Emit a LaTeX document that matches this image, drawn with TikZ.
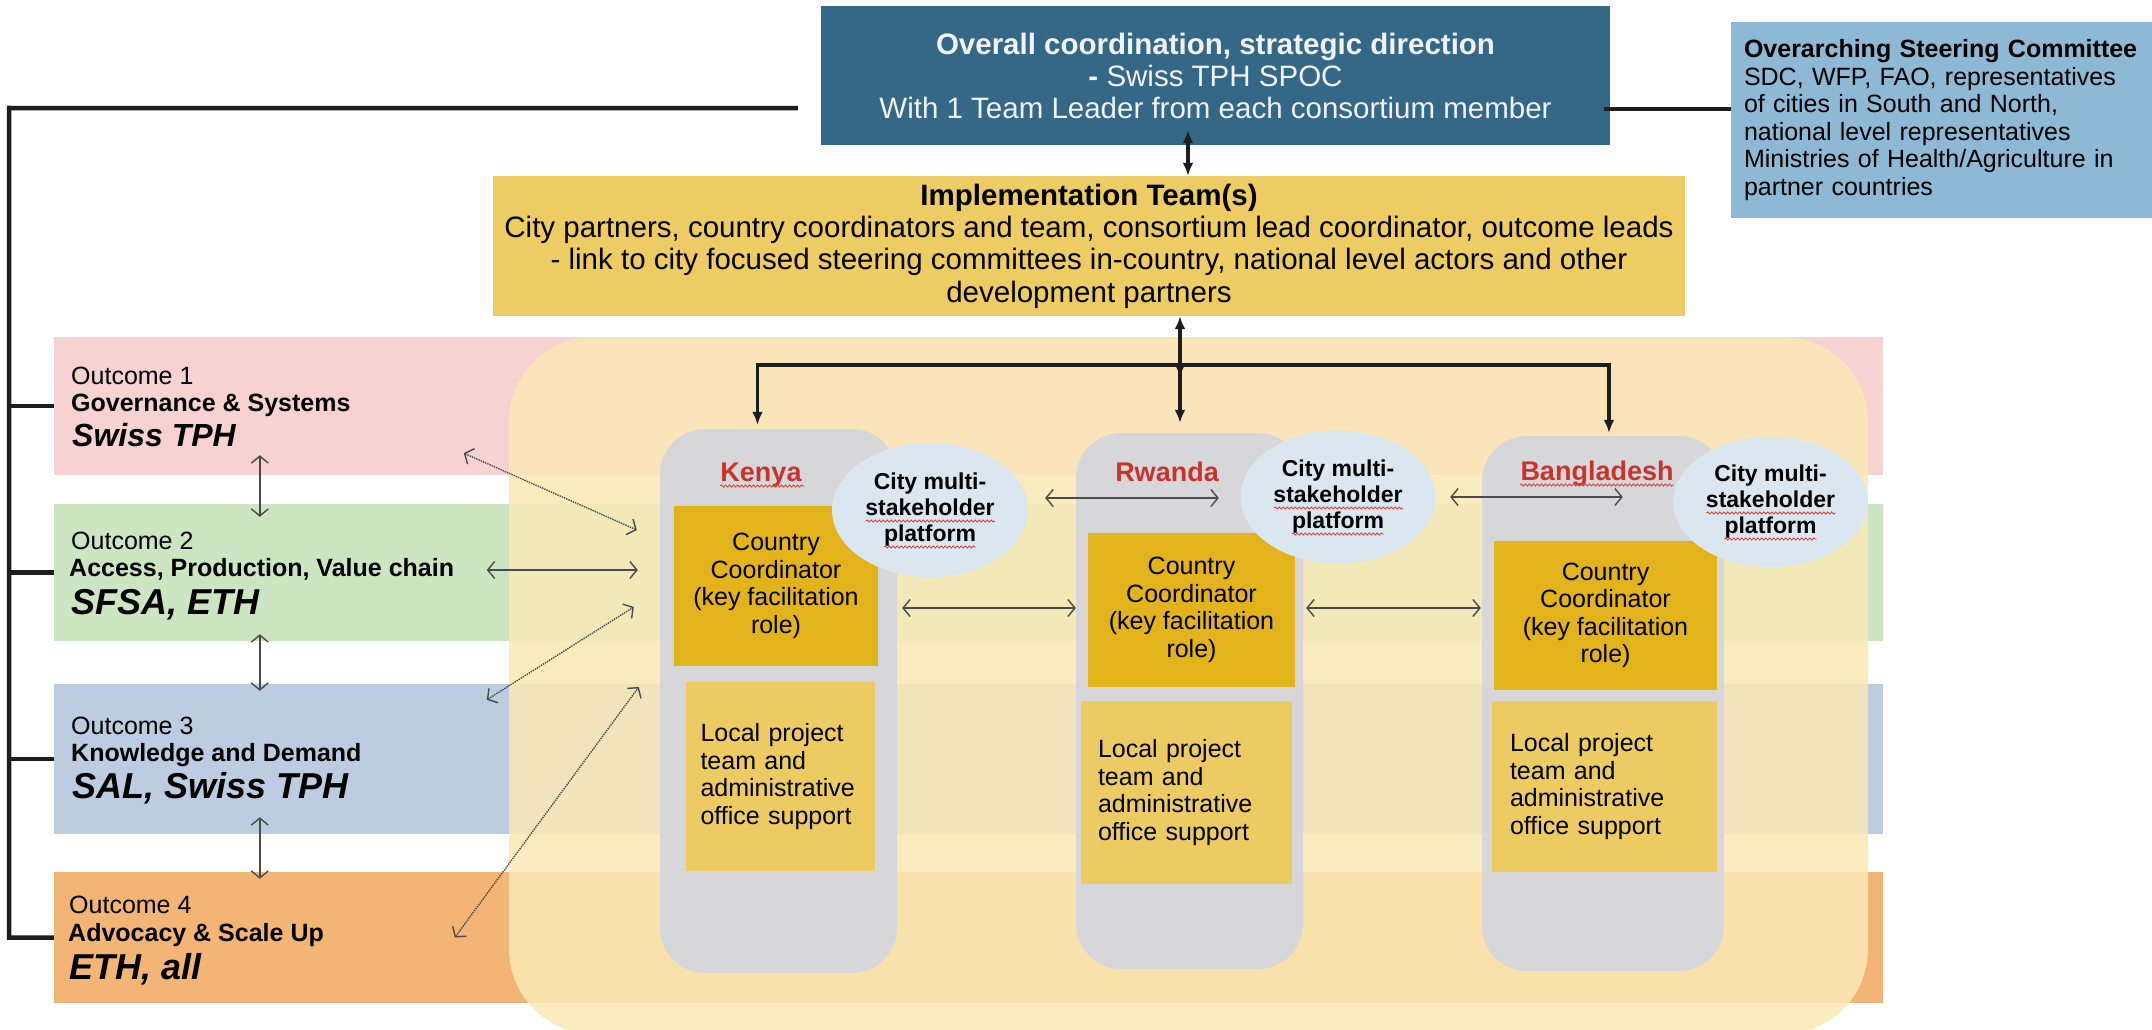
\documentclass[tikz,border=0pt]{standalone}
\usepackage{fontspec}
\setmainfont{Liberation Sans}
\usetikzlibrary{arrows.meta,shapes.geometric,calc,decorations.pathmorphing}
\newcommand\myfs[2]{\fontsize{#1pt}{#2pt}\selectfont}
\definecolor{topblue}{HTML}{356887}
\definecolor{steerblue}{HTML}{8DB9D4}
\definecolor{implyellow}{HTML}{EDCC64}
\definecolor{bandpink}{HTML}{F6D2D1}
\definecolor{bandgreen}{HTML}{CBE6C0}
\definecolor{bandblue}{HTML}{BDCDE1}
\definecolor{bandorange}{HTML}{F2B575}
\definecolor{bigyellow}{HTML}{FBE9B6}
\definecolor{colgray}{HTML}{D7D6D9}
\definecolor{ccgold}{HTML}{E2B31A}
\definecolor{localgold}{HTML}{EDCB63}
\definecolor{ellblue}{HTML}{DAE7F1}
\definecolor{cityred}{HTML}{C8342C}
\definecolor{spellred}{HTML}{E0403A}
\definecolor{arrgray}{HTML}{4A4A4A}
\definecolor{lineblack}{HTML}{1E1E1E}
\definecolor{toptext}{HTML}{F0F3F6}
\tikzset{
  bigtip/.tip={Latex[length=13pt,width=11pt]},
  barbtip/.tip={Straight Barb[length=7pt,width=17pt,line width=1.4pt]},
}
\begin{document}
\begin{tikzpicture}[x=1pt,y=-1pt,
  bandbox/.style={inner sep=0pt, minimum width=1829pt},
  colbox/.style={fill=colgray, inner sep=0pt, rounded corners=45pt},
  ccbox/.style={fill=ccgold, inner sep=0pt, align=center, font=\myfs{25}{27.5}},
  localbox/.style={fill=localgold, inner ysep=0pt, align=left, font=\myfs{25}{27.5}},
  cityell/.style={ellipse, fill=ellblue, inner sep=0pt, align=center, font=\bfseries\myfs{23}{26}},
  citylabel/.style={anchor=base, inner sep=0pt, text=cityred, font=\bfseries\myfs{27}{30}},
  outsmall/.style={anchor=base west, inner sep=0pt, font=\myfs{25}{27}},
  outbold/.style={anchor=base west, inner sep=0pt, font=\bfseries\myfs{25}{27}},
  outbig/.style={anchor=base west, inner sep=0pt, font=\bfseries\itshape\myfs{36}{40}},
  bracket/.style={draw=lineblack, line width=4.5pt},
  bigarr/.style={draw=lineblack, line width=3.5pt},
  thinarr/.style={draw=arrgray, line width=1.4pt, barbtip-barbtip},
  dotarr/.style={thinarr, densely dotted},
  spellmark/.style={draw=spellred, line width=0.9pt, decorate,
    decoration={snake, segment length=4pt, amplitude=1pt}},
]
\useasboundingbox (0,0) rectangle (2152,1030);
\fill[white] (0,0) rectangle (2152,1030);

% outcome bands
\node[bandbox, fill=bandpink, minimum height=138pt] (b1) at (968.5,406) {};
\node[bandbox, fill=bandgreen, minimum height=137pt] (b2) at (968.5,572.5) {};
\node[bandbox, fill=bandblue, minimum height=150pt] (b3) at (968.5,759) {};
\node[bandbox, fill=bandorange, minimum height=131pt] (b4) at (968.5,937.5) {};

% big translucent region
\node[fill=bigyellow, fill opacity=0.85, rounded corners=85pt, inner sep=0pt,
      minimum width=1359pt, minimum height=697pt] (region) at (1188.5,685.5) {};

% country columns
\node[colbox, minimum width=237pt, minimum height=544pt] (kenya) at (778.5,701) {};
\node[colbox, minimum width=227pt, minimum height=536pt] (rwanda) at (1189.5,701) {};
\node[colbox, minimum width=242pt, minimum height=535pt] (bangla) at (1603,703.5) {};

\node[citylabel] (kenyaL) at (761,481) {Kenya};
\node[citylabel] (rwandaL) at (1167,481) {Rwanda};
\node[citylabel] (banglaL) at (1597,480) {Bangladesh};

% country coordinator boxes
\node[ccbox, minimum width=204pt, minimum height=160pt] (kcc) at (776,586) {Country\\Coordinator\\(key facilitation\\role)};
\node[ccbox, minimum width=207pt, minimum height=154pt] (rcc) at (1191.5,610) {Country\\Coordinator\\(key facilitation\\role)};
\node[ccbox, minimum width=223pt, minimum height=149pt] (bcc) at (1605.5,615.5) {Country\\Coordinator\\(key facilitation\\role)};

% local team boxes
\node[localbox, minimum height=189pt, text width=160pt, inner xsep=14.5pt] (kloc) at (780.5,776.5) {Local project\\team and\\administrative\\office support};
\node[localbox, minimum height=183pt, text width=177pt, inner xsep=17pt] (rloc) at (1186.5,792.5) {Local project\\team and\\administrative\\office support};
\node[localbox, minimum height=171pt, text width=189pt, inner xsep=18pt] (bloc) at (1604.5,786.5) {Local project\\team and\\administrative\\office support};

% city platforms
\node[cityell, minimum width=196pt, minimum height=134pt] (kell) at (930,510) {City multi-\\stakeholder\\platform};
\node[cityell, minimum width=195pt, minimum height=133pt] (rell) at (1338,497) {City multi-\\stakeholder\\platform};
\node[cityell, minimum width=195pt, minimum height=130pt] (bell) at (1770.5,502) {City multi-\\stakeholder\\platform};

% spell-check marks as printed
\draw[spellmark] ($(kenyaL.base west)+(0,5)$) -- ($(kenyaL.base east)+(3,5)$);
\draw[spellmark] ($(banglaL.base west)+(0,5)$) -- ($(banglaL.base east)+(0,5)$);
\foreach \e in {kell,rell,bell}{
  \draw[spellmark] ($(\e.center)+(-64,11)$) -- ($(\e.center)+(65,11)$);
  \draw[spellmark] ($(\e.center)+(-46,37)$) -- ($(\e.center)+(46,37)$);
}

% top boxes
\node[fill=topblue, minimum width=789pt, minimum height=139pt, inner sep=0pt, align=center,
      text=toptext, font=\myfs{29.5}{32}] (top) at (1215.5,75.5)
  {\textbf{Overall coordination, strategic direction}\\\textbf{-} Swiss TPH SPOC\\With 1 Team Leader from each consortium member};
\node[fill=steerblue, minimum height=196pt, text width=395pt, inner xsep=13pt, inner ysep=0pt,
      align=left, font=\myfs{25}{27.6}] (steer) at (1941.5,120)
  {\textbf{Overarching Steering Committee}\\SDC, WFP, FAO, representatives\\of cities in South and North,\\national level representatives\\Ministries of Health/Agriculture in\\partner countries};
\node[fill=implyellow, minimum width=1192pt, minimum height=140pt, inner sep=0pt, align=center,
      font=\myfs{29.5}{32.3}] (impl) at (1089,246)
  {\textbf{Implementation Team(s)}\\City partners, country coordinators and team, consortium lead coordinator, outcome leads\\- link to city focused steering committees in-country, national level actors and other\\development partners};

% outcome texts
\node[outsmall] (o1a) at (71,384) {Outcome 1};
\node[outbold] (o1b) at (71,411) {Governance \& Systems};
\node[outbig, font=\bfseries\itshape\myfs{32}{36}] (o1c) at (72,446) {Swiss TPH};
\node[outsmall] (o2a) at (71,549) {Outcome 2};
\node[outbold] (o2b) at (69,576) {Access, Production, Value chain};
\node[outbig] (o2c) at (71,614) {SFSA, ETH};
\node[outsmall] (o3a) at (71,734) {Outcome 3};
\node[outbold] (o3b) at (71,761) {Knowledge and Demand};
\node[outbig] (o3c) at (72,798) {SAL, Swiss TPH};
\node[outsmall] (o4a) at (69,913) {Outcome 4};
\node[outbold] (o4b) at (68,941) {Advocacy \& Scale Up};
\node[outbig] (o4c) at (69,979) {ETH, all};

% left bracket
\coordinate (brTop) at (9,108);
\draw[bracket] ($(top.south west)+(-23,-37)$) -- (brTop) |- (b4.west);
\draw[bracket] (b1.west) -- (b1.west -| brTop);
\draw[bracket] (b2.west) -- (b2.west -| brTop);
\draw[bracket] (b3.west) -- (b3.west -| brTop);

% steering connector
\draw[bracket] ($(top.south east)+(-6,-36)$) -- ($(steer.south west)+(0,-109)$);

% top <-> implementation
\draw[bigarr, bigtip-bigtip] ($(top.south)+(-27.5,-15)$) -- ($(impl.north)+(99,0)$);

% implementation -> countries
\coordinate (fk) at ($(impl.south)+(91,49)$);
\draw[bigarr, bigtip-bigtip] ($(impl.south)+(91,0)$) -- ($(fk)+(0,12)$);
\draw[bigarr, -bigtip] (fk) -- ($(rwanda.north)+(-9.5,-10)$);
\draw[bigarr, -bigtip] (fk) -| ($(kenya.north)+(-21,-4)$);
\draw[bigarr, -bigtip] (fk) -| ($(bangla.north)+(6,-3)$);

% outcome <-> outcome
\draw[thinarr] ($(b1.south west)+(206,-20)$) -- ($(b2.north west)+(206,13)$);
\draw[thinarr] ($(b2.south west)+(206,-7)$) -- ($(b3.north west)+(206,7)$);
\draw[thinarr] ($(b3.south west)+(206,-17)$) -- ($(b4.north west)+(206,7)$);

% outcomes <-> Kenya
\draw[dotarr] ($(b1.south west)+(410,-22)$) -- ($(kenya.west)+(-23,-171)$);
\draw[thinarr] ($(b2.west)+(433,-2.5)$) -- ($(kenya.west)+(-22,-131)$);
\draw[dotarr] ($(b3.north west)+(433,16)$) -- ($(kenya.west)+(-26,-94)$);
\draw[dotarr] ($(b4.west)+(401,0)$) -- ($(kenya.west)+(-21,-14)$);

% country <-> country
\draw[thinarr] ($(kell.east)+(17,-12)$) -- ($(rell.west)+(-21.5,1)$);
\draw[thinarr] ($(rell.east)+(14.5,0)$) -- ($(bell.west)+(-50,-5)$);
\draw[thinarr] ($(kcc.east)+(24,22)$) -- ($(rwanda.west)+(0,-93)$);
\draw[thinarr] ($(rcc.east)+(11,-2)$) -- ($(bangla.west)+(-1,-95.5)$);
\end{tikzpicture}
\end{document}
